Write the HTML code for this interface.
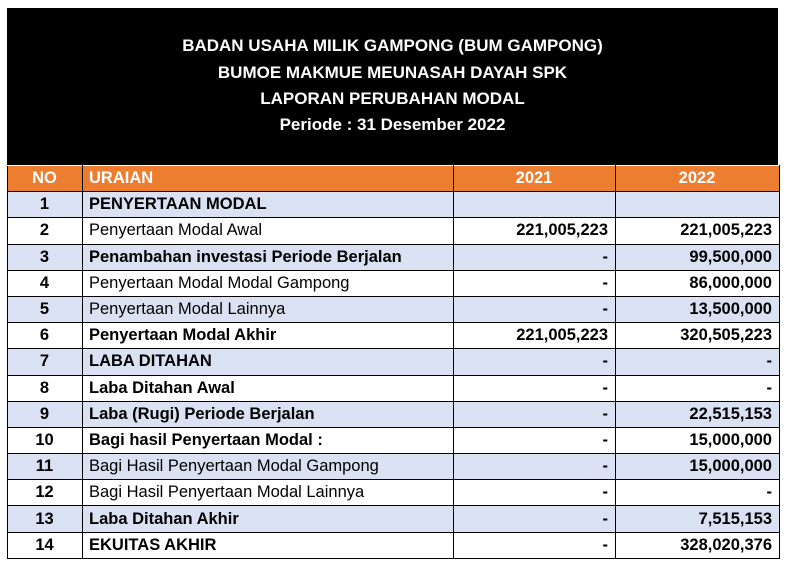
<!DOCTYPE html>
<html><head><style>
body{margin:0;background:#fff;width:786px;height:563px;overflow:hidden;font-family:"Liberation Sans",sans-serif;}
.hd{position:absolute;left:7px;top:8px;width:771px;height:157px;background:#000;color:#fff;font-weight:bold;font-size:17px;text-align:center;}
.hd div{position:absolute;left:0;right:0;}
table{position:absolute;left:7px;top:165px;border-collapse:collapse;width:772px;table-layout:fixed;}
td{border:1px solid #000;height:25.2px;padding:0 7px 0 6px;font-size:16.5px;white-space:nowrap;overflow:hidden;line-height:25px;}
tr.h td{background:#ed7d31;color:#fff;font-weight:bold;border-color:#fff #000 #000 #000;}
tr.b td{background:#d9e1f2;}
td.n{text-align:center;font-weight:bold;}
td.r{text-align:right;font-weight:bold;}
.bo{font-weight:bold;}
</style></head><body>
<div class="hd">
<div style="top:28px">BADAN USAHA MILIK GAMPONG (BUM GAMPONG)</div>
<div style="top:55px">BUMOE MAKMUE MEUNASAH DAYAH SPK</div>
<div style="top:81px">LAPORAN PERUBAHAN MODAL</div>
<div style="top:107px">Periode : 31 Desember 2022</div>
</div>
<table>
<colgroup><col style="width:75px"><col style="width:371px"><col style="width:162px"><col style="width:164px"></colgroup>
<tr class="h"><td class="n">NO</td><td>URAIAN</td><td style="text-align:center">2021</td><td style="text-align:center">2022</td></tr>
<tr class="b"><td class="n">1</td><td class="bo">PENYERTAAN MODAL</td><td></td><td></td></tr>
<tr><td class="n">2</td><td>Penyertaan Modal Awal</td><td class="r">221,005,223</td><td class="r">221,005,223</td></tr>
<tr class="b"><td class="n">3</td><td class="bo">Penambahan investasi Periode Berjalan</td><td class="r">-</td><td class="r">99,500,000</td></tr>
<tr><td class="n">4</td><td>Penyertaan Modal Modal Gampong</td><td class="r">-</td><td class="r">86,000,000</td></tr>
<tr class="b"><td class="n">5</td><td>Penyertaan Modal Lainnya</td><td class="r">-</td><td class="r">13,500,000</td></tr>
<tr><td class="n">6</td><td class="bo">Penyertaan Modal Akhir</td><td class="r">221,005,223</td><td class="r">320,505,223</td></tr>
<tr class="b"><td class="n">7</td><td class="bo">LABA DITAHAN</td><td class="r">-</td><td class="r">-</td></tr>
<tr><td class="n">8</td><td class="bo">Laba Ditahan Awal</td><td class="r">-</td><td class="r">-</td></tr>
<tr class="b"><td class="n">9</td><td class="bo">Laba (Rugi) Periode Berjalan</td><td class="r">-</td><td class="r">22,515,153</td></tr>
<tr><td class="n">10</td><td class="bo">Bagi hasil Penyertaan Modal :</td><td class="r">-</td><td class="r">15,000,000</td></tr>
<tr class="b"><td class="n">11</td><td>Bagi Hasil Penyertaan Modal Gampong</td><td class="r">-</td><td class="r">15,000,000</td></tr>
<tr><td class="n">12</td><td>Bagi Hasil Penyertaan Modal Lainnya</td><td class="r">-</td><td class="r">-</td></tr>
<tr class="b"><td class="n">13</td><td class="bo">Laba Ditahan Akhir</td><td class="r">-</td><td class="r">7,515,153</td></tr>
<tr><td class="n">14</td><td class="bo">EKUITAS AKHIR</td><td class="r">-</td><td class="r">328,020,376</td></tr>
</table>
</body></html>
